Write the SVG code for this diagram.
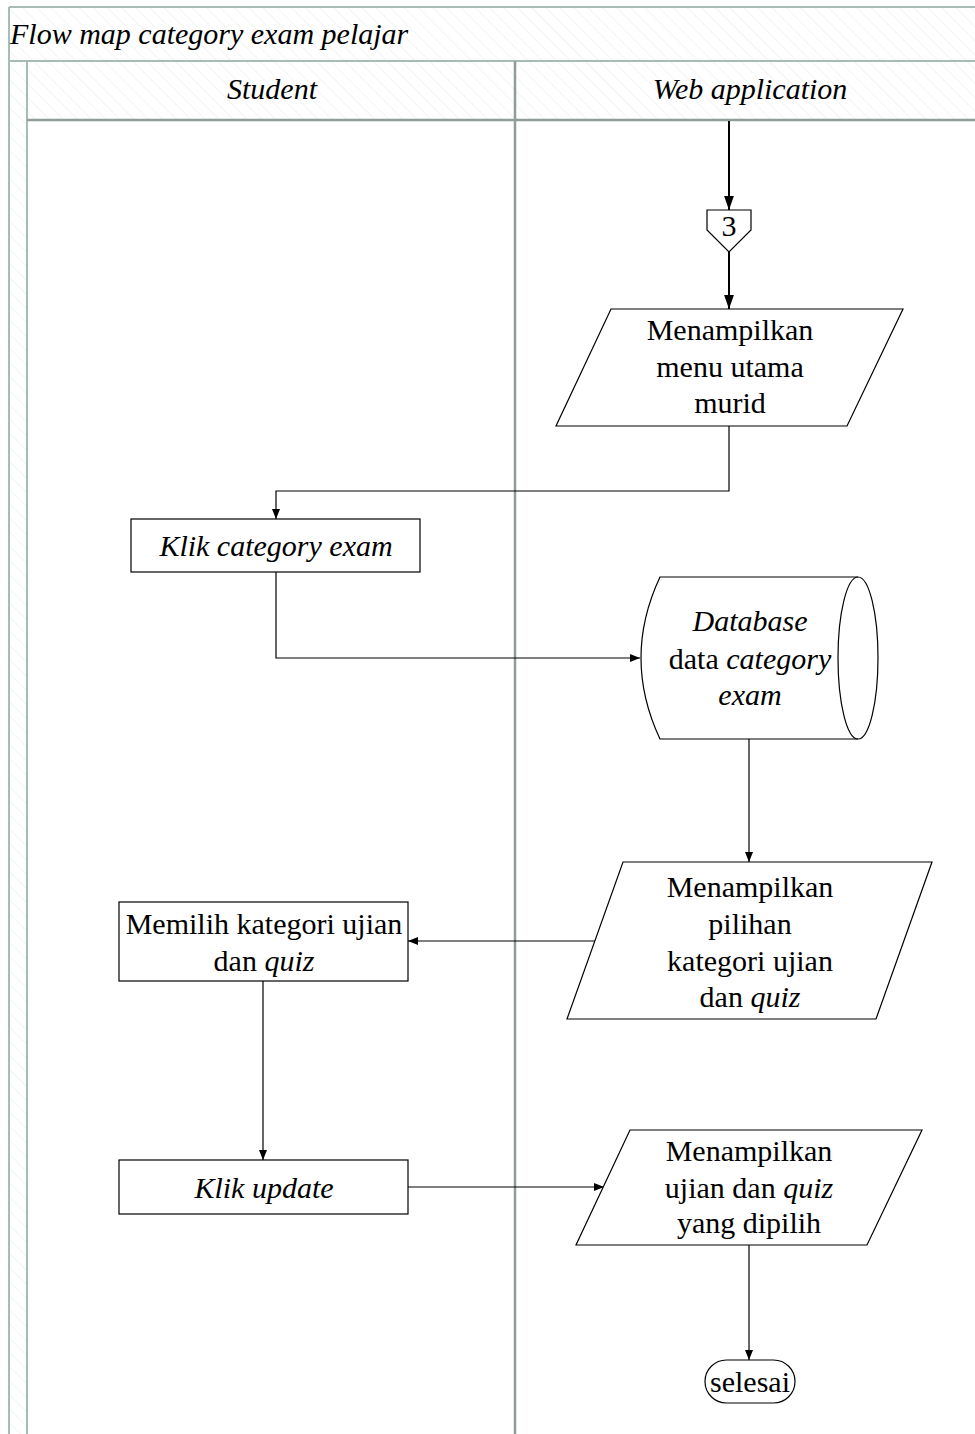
<svg xmlns="http://www.w3.org/2000/svg" width="975" height="1434" viewBox="0 0 975 1434" font-family="'Liberation Serif', 'Times New Roman', Tinos, serif">
  <style>
    .lane { fill: none; stroke: #a7bcb5; stroke-width: 2; }
    .lanedark { fill: none; stroke: #8f9d99; stroke-width: 2.5; }
    .shape { fill: #ffffff; stroke: #000000; stroke-width: 1.2; }
    .edge { fill: none; stroke: #000000; stroke-width: 1.2; }
    .edgebold { fill: none; stroke: #000000; stroke-width: 2; }
    text { font-family: 'Liberation Serif', 'Times New Roman', Tinos, serif; font-size: 30px; fill: #000000; }
    .c { text-anchor: middle; }
    .i { font-style: italic; }
  </style>
  <defs>
    <pattern id="hatch" width="10" height="10" patternUnits="userSpaceOnUse" patternTransform="rotate(-45)">
      <line x1="0" y1="0" x2="0" y2="10" stroke="#edf2f0" stroke-width="1.5"/>
    </pattern>
    <marker id="arrow" viewBox="0 0 10 10" refX="10" refY="5" markerWidth="10" markerHeight="10" markerUnits="userSpaceOnUse" orient="auto">
      <path d="M0,1 L10,5 L0,9 z" fill="#000000"/>
    </marker>
    <marker id="arrowbig" viewBox="0 0 10 10" refX="10" refY="5" markerWidth="14" markerHeight="14" markerUnits="userSpaceOnUse" orient="auto">
      <path d="M0,1.5 L10,5 L0,8.5 z" fill="#000000"/>
    </marker>
  </defs>

  <rect width="975" height="1434" fill="#ffffff"/>

  <!-- pool frame, title band, lane headers -->
  <g id="pool">
    <rect x="9" y="7" width="970" height="54" fill="url(#hatch)"/>
    <rect x="9" y="61" width="18" height="1380" fill="url(#hatch)"/>
    <rect x="27" y="61" width="952" height="59" fill="url(#hatch)"/>
    <line class="lane" x1="9" y1="7" x2="979" y2="7"/>
    <line class="lane" x1="9" y1="7" x2="9" y2="1440"/>
    <line class="lane" x1="9" y1="61" x2="979" y2="61"/>
    <line class="lane" x1="27" y1="61" x2="27" y2="1440"/>
    <line class="lanedark" x1="27" y1="120" x2="979" y2="120"/>
    <line class="lanedark" x1="515" y1="61" x2="515" y2="1440"/>
    <text x="10" y="44" class="i">Flow map category exam pelajar</text>
    <text x="272" y="99" class="c i">Student</text>
    <text x="750" y="99" class="c i">Web application</text>
  </g>

  <!-- connectors -->
  <g id="connectors">
    <line class="edgebold" x1="729" y1="121" x2="729" y2="210" marker-end="url(#arrowbig)"/>
    <line class="edgebold" x1="729" y1="252" x2="729" y2="309" marker-end="url(#arrowbig)"/>
    <polyline class="edge" points="729,426 729,491 276,491 276,519" marker-end="url(#arrow)"/>
    <polyline class="edge" points="276,572 276,658 640,658" marker-end="url(#arrow)"/>
    <line class="edge" x1="749" y1="739" x2="749" y2="862" marker-end="url(#arrow)"/>
    <line class="edge" x1="604" y1="941" x2="408" y2="941" marker-end="url(#arrow)"/>
    <line class="edge" x1="263" y1="981" x2="263" y2="1160" marker-end="url(#arrow)"/>
    <line class="edge" x1="408" y1="1187" x2="604" y2="1187" marker-end="url(#arrow)"/>
    <line class="edge" x1="749" y1="1245" x2="749" y2="1360" marker-end="url(#arrow)"/>
  </g>

  <!-- off-page connector 3 -->
  <g id="offpage3">
    <path class="shape" d="M707,210 L751,210 L751,230 L729,252 L707,230 z"/>
    <text x="729" y="236" class="c">3</text>
  </g>

  <g id="menuUtama">
    <path class="shape" d="M611,309 L903,309 L847,426 L556,426 z"/>
    <text x="730" y="340" class="c">Menampilkan</text>
    <text x="730" y="377" class="c">menu utama</text>
    <text x="730" y="413" class="c">murid</text>
  </g>

  <g id="klikCategory">
    <rect class="shape" x="131" y="519" width="289" height="53"/>
    <text x="276" y="556" class="c i">Klik category exam</text>
  </g>

  <g id="database">
    <path class="shape" d="M660,577 L858,577 A20,81 0 0 1 858,739 L660,739 Q622,658 660,577 z"/>
    <path class="edge" d="M858,577 A20,81 0 0 0 858,739"/>
    <text x="750" y="631" class="c i">Database</text>
    <text x="750" y="669" class="c">data <tspan class="i">category</tspan></text>
    <text x="750" y="705" class="c i">exam</text>
  </g>

  <g id="pilihanKategori">
    <path class="shape" d="M623,862 L932,862 L876,1019 L567,1019 z"/>
    <text x="750" y="897" class="c">Menampilkan</text>
    <text x="750" y="934" class="c">pilihan</text>
    <text x="750" y="971" class="c">kategori ujian</text>
    <text x="750" y="1007" class="c">dan <tspan class="i">quiz</tspan></text>
  </g>

  <g id="memilihKategori">
    <rect class="shape" x="119" y="902" width="289" height="79"/>
    <text x="264" y="934" class="c">Memilih kategori ujian</text>
    <text x="264" y="971" class="c">dan <tspan class="i">quiz</tspan></text>
  </g>

  <g id="klikUpdate">
    <rect class="shape" x="119" y="1160" width="289" height="54"/>
    <text x="264" y="1198" class="c i">Klik update</text>
  </g>

  <g id="ujianDipilih">
    <path class="shape" d="M630,1130 L922,1130 L867,1245 L576,1245 z"/>
    <text x="749" y="1161" class="c">Menampilkan</text>
    <text x="749" y="1198" class="c">ujian dan <tspan class="i">quiz</tspan></text>
    <text x="749" y="1233" class="c">yang dipilih</text>
  </g>

  <g id="selesai">
    <rect class="shape" x="705" y="1360" width="90" height="43" rx="21.5" ry="21.5"/>
    <text x="750" y="1392" class="c">selesai</text>
  </g>
</svg>
